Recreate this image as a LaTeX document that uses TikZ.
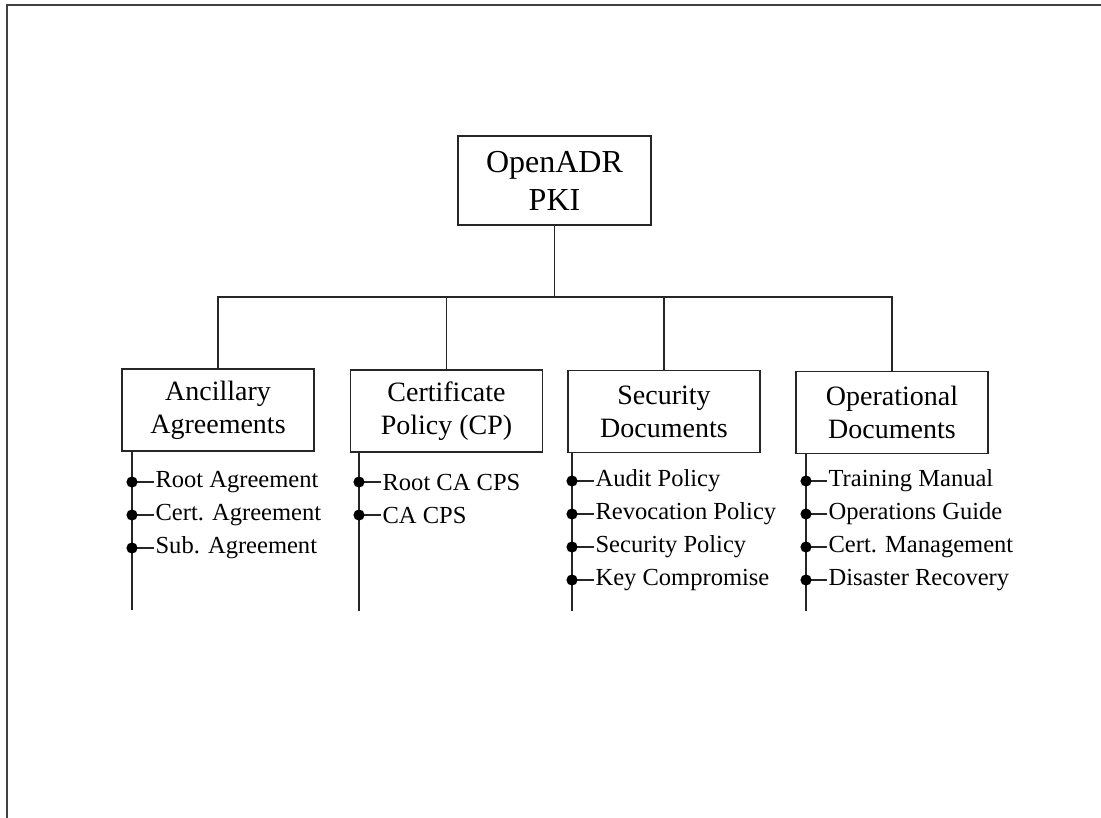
\documentclass[tikz,border=0pt]{standalone}
\usepackage{fontspec}
\setmainfont{Liberation Serif}
\begin{document}
\begin{tikzpicture}[x=0.75pt,y=-0.75pt,
  frame/.style={draw=black!75,line width=1.3pt},
  conn/.style={draw=black!85,line width=0.9pt},
  rootbox/.style={draw=black!85,line width=0.9pt,minimum width=193*0.75pt,minimum height=89*0.75pt,align=center,inner sep=0pt,font=\fontsize{24}{28.5}\selectfont},
  catbox/.style={draw=black!85,line width=0.9pt,minimum width=192*0.75pt,minimum height=82*0.75pt,align=center,inner sep=0pt,font=\fontsize{21}{24.75}\selectfont},
  item/.style={anchor=west,inner sep=1pt,font=\fontsize{18.4}{22}\selectfont},
  dot/.style={fill=black}
]
\useasboundingbox (0,0) rectangle (1101,818);
% outer frame (top and left edges visible)
\draw[frame] (7,818) -- (7,5) -- (1101,5);

% nodes
\node[rootbox] (root) at (554.5,180.5) {OpenADR\\PKI};
\node[catbox] (anc) at (218,410) {Ancillary\\Agreements};
\node[catbox] (cp) at (446.5,411) {Certificate\\Policy (CP)};
\node[catbox] (sec) at (664,411.5) {Security\\Documents};
\node[catbox] (ops) at (892,412.5) {Operational\\Documents};

% bus
\coordinate (bus) at (555,297);
\draw[conn] (root.south) -- (root.south |- bus);
\draw[conn] (anc.north) -- (anc.north |- bus) -- (ops.north |- bus) -- (ops.north);
\draw[conn] (cp.north) -- (cp.north |- bus);
\draw[conn] (sec.north) -- (sec.north |- bus);

% spines
\coordinate (aend) at (132,610);
\coordinate (cend) at (359,611);
\coordinate (send) at (572,611);
\coordinate (oend) at (806,611);
\draw[conn] (anc.south -| aend) -- (aend);
\draw[conn] (cp.south -| cend) -- (cend);
\draw[conn] (sec.south -| send) -- (send);
\draw[conn] (ops.south -| oend) -- (oend);

% items
\foreach \t [count=\i] in {Root Agreement, Cert. Agreement, Sub. Agreement} {
  \coordinate (a\i) at (132,449+33*\i);
  \node[item] (at\i) at (154,449+33*\i) {\t};
  \draw[conn] (a\i) -- (at\i.west);
  \fill[dot] (a\i) circle (4.2pt);
}
\foreach \t [count=\i] in {Root CA CPS, CA CPS} {
  \coordinate (c\i) at (359,449+33*\i);
  \node[item] (ct\i) at (381,449+33*\i) {\t};
  \draw[conn] (c\i) -- (ct\i.west);
  \fill[dot] (c\i) circle (4.2pt);
}
\foreach \t [count=\i] in {Audit Policy, Revocation Policy, Security Policy, Key Compromise} {
  \coordinate (s\i) at (572,448+33*\i);
  \node[item] (st\i) at (594,448+33*\i) {\t};
  \draw[conn] (s\i) -- (st\i.west);
  \fill[dot] (s\i) circle (4.2pt);
}
\foreach \t [count=\i] in {Training Manual, Operations Guide, Cert. Management, Disaster Recovery} {
  \coordinate (o\i) at (806,448+33*\i);
  \node[item] (ot\i) at (827,448+33*\i) {\t};
  \draw[conn] (o\i) -- (ot\i.west);
  \fill[dot] (o\i) circle (4.2pt);
}
\end{tikzpicture}
\end{document}
